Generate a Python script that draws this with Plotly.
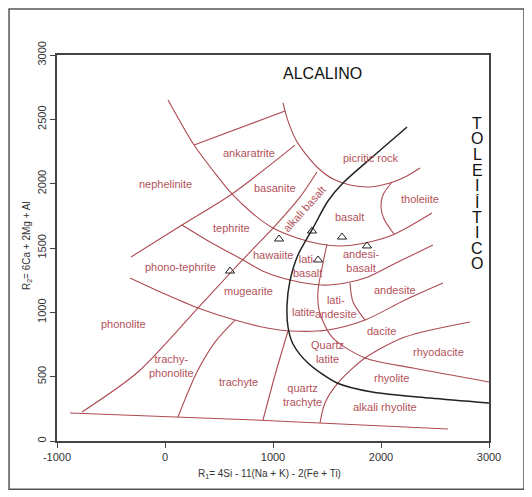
import plotly.graph_objects as go

# ---------------- data (R1, R2 values) ----------------
# field boundaries (red)
arc1_r1 = [28, 269, 454, 620, 806, 1000, 1222, 1435, 1620, 1852, 2083, 2268, 2472]
arc1_r2 = [2650, 2300, 2091, 1920, 1772, 1655, 1578, 1531, 1516, 1539, 1593, 1671, 1772]

picrite_r1 = [1093, 1130, 1213, 1296, 1417, 1556, 1713, 1898, 2083, 2222, 2361]
picrite_r2 = [2627, 2510, 2339, 2238, 2122, 2036, 1990, 1974, 2005, 2052, 2122]

ankara_r1 = [269, 1111]
ankara_r2 = [2300, 2565]

diagc_r1 = [-315, 157, 620, 1204]
diagc_r2 = [1430, 1679, 1920, 2300]

diag1_r1 = [-769, -250, 306, 630, 833, 1000, 1250, 1407]
diag1_r2 = [225, 536, 1034, 1329, 1508, 1655, 1896, 2091]

arc2_r1 = [157, 417, 722, 926, 1157, 1454, 1667, 1880, 2157, 2481]
arc2_r2 = [1679, 1547, 1407, 1313, 1251, 1212, 1228, 1275, 1391, 1523]

arc3_r1 = [-324, 0, 306, 648, 944, 1157, 1509, 1852, 2222, 2574]
arc3_r2 = [1267, 1142, 1034, 940, 878, 855, 863, 940, 1096, 1228]

diag2_r1 = [120, 296, 463, 648]
diag2_r2 = [187, 536, 769, 940]

diag3_r1 = [907, 1019, 1139]
diag3_r2 = [163, 513, 855]

diag4_r1 = [1435, 1481, 1602, 1852, 2222, 2824]
diag4_r2 = [140, 295, 451, 645, 808, 925]

vert1_r1 = [1500, 1454, 1417, 1426, 1546, 1852, 2296, 3000]
vert1_r2 = [1531, 1345, 1174, 1018, 808, 645, 567, 459]

vert2_r1 = [1713, 1741, 1852]
vert2_r2 = [1228, 1080, 940]

thol_r1 = [2102, 2018, 2000, 2028, 2120]
thol_r2 = [2013, 1912, 1819, 1725, 1609]

base_r1 = [-880, 833, 2620]
base_r2 = [218, 163, 93]

# alkaline / tholeiitic divide (black)
divide_r1 = [2241, 1963, 1648, 1509, 1370, 1231, 1157, 1130, 1139, 1185, 1324, 1593, 1917, 2454, 3000]
divide_r2 = [2440, 2238, 2005, 1865, 1655, 1446, 1244, 1057, 886, 754, 606, 451, 381, 334, 295]

# samples
sample_r1 = [602, 1056, 1361, 1639, 1417, 1870]
sample_r2 = [1321, 1570, 1632, 1585, 1407, 1516]

# field names and their label anchors
field_names = ["nephelinite", "ankaratrite", "basanite", "tephrite", "phono-tephrite",
               "hawaiite", "mugearite", "phonolite", "trachy-<br>phonolite", "trachyte",
               "quartz<br>trachyte", "Quartz<br>latite", "alkali rhyolite", "rhyolite",
               "rhyodacite", "dacite", "latite", "lati-<br>andesite", "andesite",
               "lati-<br>basalt", "andesi-<br>basalt", "basalt", "tholeiite", "picritic rock"]
field_r1 = [0, 778, 1019, 620, 139, 1000, 769, -380, 56, 685, 1269, 1509, 2037, 2093,
            2528, 2009, 1278, 1583, 2130, 1315, 1815, 1704, 2361, 1907]
field_r2 = [1997, 2238, 1966, 1655, 1352, 1446, 1166, 909, 583, 459, 358, 692, 264, 490,
            692, 855, 1003, 1041, 1174, 1360, 1399, 1741, 1881, 2200]

x_ticks = [-1000, 0, 1000, 2000, 3000]
x_ticklabels = ["-1000", "0", "1000", "2000", "3000"]
y_ticks = [0, 500, 1000, 1500, 2000, 2500, 3000]
tol_letters = ["T", "O", "L", "E", "I", "Í", "T", "I", "C", "O"]

RED = "#ad4a52"
TXT = "#b2525a"
FONT = "Liberation Sans, Arial"

fig = go.Figure()

red_lines = [
    (arc1_r1, arc1_r2, "spline"), (picrite_r1, picrite_r2, "spline"),
    (ankara_r1, ankara_r2, "linear"), (diagc_r1, diagc_r2, "spline"),
    (diag1_r1, diag1_r2, "spline"), (arc2_r1, arc2_r2, "spline"),
    (arc3_r1, arc3_r2, "spline"), (diag2_r1, diag2_r2, "spline"),
    (diag3_r1, diag3_r2, "spline"), (diag4_r1, diag4_r2, "spline"),
    (vert1_r1, vert1_r2, "spline"), (vert2_r1, vert2_r2, "spline"),
    (thol_r1, thol_r2, "spline"), (base_r1, base_r2, "spline"),
]
for xs, ys, shp in red_lines:
    fig.add_trace(go.Scatter(x=xs, y=ys, mode="lines",
                             line=dict(color=RED, width=1.1, shape=shp, smoothing=0.8),
                             hoverinfo="skip"))

fig.add_trace(go.Scatter(x=divide_r1, y=divide_r2, mode="lines",
                         line=dict(color="#222222", width=1.5, shape="spline", smoothing=0.8),
                         hoverinfo="skip"))

fig.add_trace(go.Scatter(x=sample_r1, y=sample_r2, mode="markers",
                         marker=dict(symbol="triangle-up-open", size=8, color="#222222",
                                     line=dict(width=1))))

annotations = []
for name, x, y in zip(field_names, field_r1, field_r2):
    annotations.append(dict(x=x, y=y, xref="x", yref="y", text=name, showarrow=False,
                            xanchor="center", yanchor="middle", align="center",
                            font=dict(family=FONT, size=11, color=TXT)))

annotations.append(dict(x=1290, y=1800, xref="x", yref="y", text="alkali basalt",
                        showarrow=False, textangle=-48,
                        font=dict(family=FONT, size=11, color=TXT)))

annotations.append(dict(x=1454, y=2860, xref="x", yref="y", text="ALCALINO", showarrow=False,
                        font=dict(family=FONT, size=16, color="#111111")))

for i, ch in enumerate(tol_letters):
    annotations.append(dict(x=2889, y=2471 - i * 121.7, xref="x", yref="y", text=ch,
                            showarrow=False, xanchor="center", yanchor="middle",
                            height=15, valign="middle",
                            font=dict(family=FONT, size=16, color="#111111")))

annotations.append(dict(x=0.493, y=-0.0855, xref="paper", yref="paper",
                        text="R<sub>1</sub>= 4Si - 11(Na + K) - 2(Fe + Ti)", showarrow=False,
                        xanchor="center", yanchor="middle",
                        font=dict(family=FONT, size=10, color="#333333")))
annotations.append(dict(x=-0.0694, y=0.505, xref="paper", yref="paper",
                        text="R<sub>2</sub>= 6Ca + 2Mg + Al", showarrow=False, textangle=-90,
                        xanchor="center", yanchor="middle",
                        font=dict(family=FONT, size=10, color="#333333")))

axis_common = dict(showgrid=False, zeroline=False, showline=True, linecolor="#444444",
                   linewidth=1.5, mirror=True, ticks="outside", ticklen=5, tickcolor="#444444",
                   tickfont=dict(family=FONT, size=11, color="#333333"))

fig.update_xaxes(range=[-1000, 3000], tickvals=x_ticks, ticktext=x_ticklabels, **axis_common)
fig.update_yaxes(range=[0, 3000], tickvals=y_ticks, tickangle=-90, **axis_common)

# the page body adds an 8 px margin, so the figure is 8 px smaller and its
# left/top margins 8 px narrower to keep the plot box where the reference has it
fig.update_layout(
    width=524, height=489,
    margin=dict(l=49, r=43, t=47, b=56),
    plot_bgcolor="white", paper_bgcolor="white",
    showlegend=False,
    annotations=annotations,
    shapes=[dict(type="rect", xref="paper", yref="paper",
                 x0=-0.111, x1=1.081, y0=-0.125, y1=1.119,
                 line=dict(color="#555555", width=1.5))],
)

fig.write_html("out.html")
